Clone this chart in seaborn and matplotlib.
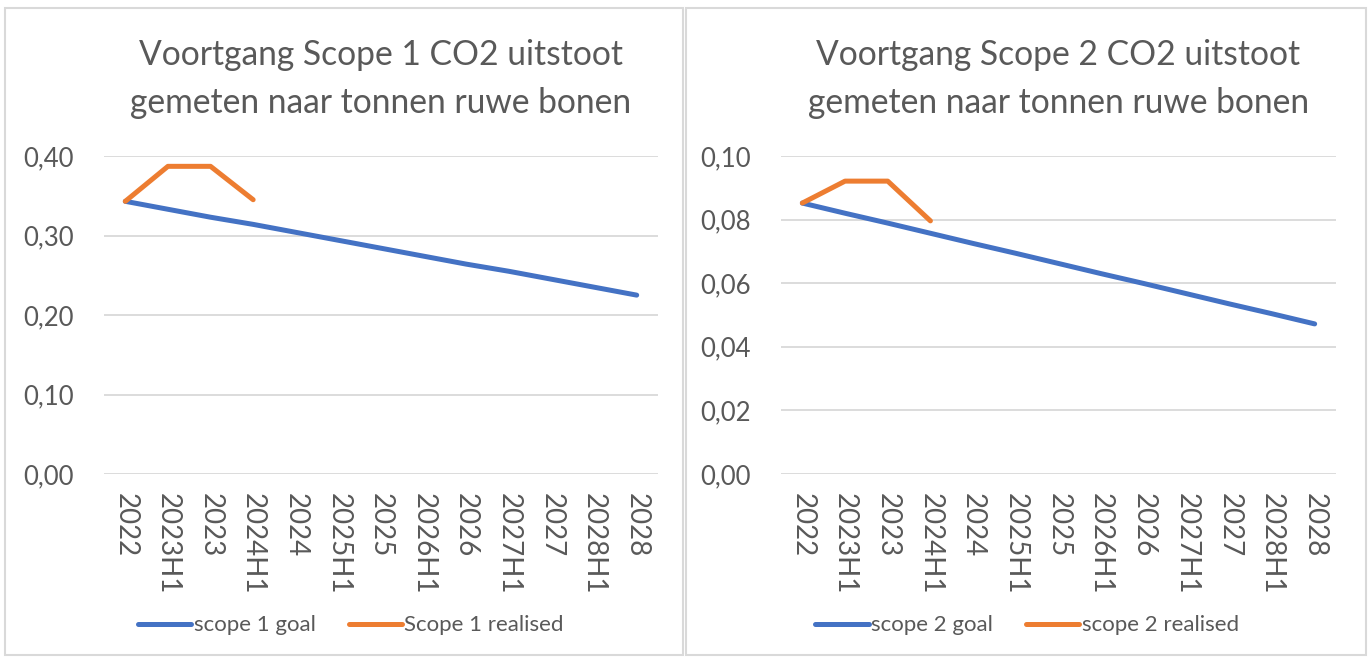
import pandas as pd
import numpy as np
import matplotlib
matplotlib.use("Agg")
import matplotlib.pyplot as plt
import seaborn as sns
from matplotlib.patches import Rectangle
from matplotlib.ticker import FuncFormatter

# Categorieen op de x-as
periodes = ["2022", "2023H1", "2023", "2024H1", "2024", "2025H1", "2025",
            "2026H1", "2026", "2027H1", "2027", "2028H1", "2028"]

# Scope 1
scope1_goal = [0.343, 0.333, 0.323, 0.314, 0.304, 0.294, 0.284,
               0.274, 0.264, 0.255, 0.245, 0.235, 0.225]
scope1_realised = [0.343, 0.387, 0.387, 0.345]

# Scope 2
scope2_goal = [0.0852, 0.0820, 0.0789, 0.0757, 0.0725, 0.0694, 0.0662,
               0.0630, 0.0599, 0.0567, 0.0535, 0.0504, 0.0472]
scope2_realised = [0.0852, 0.0921, 0.0921, 0.0796]

titels = ["Voortgang Scope 1 CO2 uitstoot\ngemeten naar tonnen ruwe bonen",
          "Voortgang Scope 2 CO2 uitstoot\ngemeten naar tonnen ruwe bonen"]
labels1 = ["scope 1 goal", "Scope 1 realised"]
labels2 = ["scope 2 goal", "scope 2 realised"]

BLAUW = "#4472C4"
ORANJE = "#ED7D31"
GRIJS = "#595959"
LICHT = "#D9D9D9"

sns.set_style("white")
plt.rcParams['font.family'] = ['Lato', 'DejaVu Sans']


def maak_df(goal, realised, labels):
    df_goal = pd.DataFrame({'periode': periodes, 'waarde': goal, 'serie': labels[0]})
    df_real = pd.DataFrame({'periode': periodes[:len(realised)], 'waarde': realised,
                            'serie': labels[1]})
    return pd.concat([df_goal, df_real], ignore_index=True)


def teken_panel(ax, df, labels, titel, ymax, yticks, leg_x):
    sns.lineplot(data=df, x='periode', y='waarde', hue='serie', hue_order=labels,
                 palette=[BLAUW, ORANJE], linewidth=3.6, sort=False, ax=ax,
                 solid_capstyle='round')
    ax.set_xlim(-0.5, len(periodes) - 0.5)
    ax.set_ylim(0, ymax)
    ax.set_yticks(yticks)
    ax.yaxis.set_major_formatter(FuncFormatter(lambda v, p: f"{v:.2f}".replace('.', ',')))
    ax.grid(axis='y', color=LICHT, linewidth=1.3)
    ax.set_axisbelow(True)
    for s in ax.spines.values():
        s.set_visible(False)
    ax.tick_params(length=0, colors=GRIJS)
    ax.tick_params(axis='y', pad=22, labelsize=18.5)
    ax.tick_params(axis='x', pad=14, labelsize=20)
    plt.setp(ax.get_xticklabels(), rotation=270, va='top', ha='center')
    ax.set_xlabel("")
    ax.set_ylabel("")
    ax.set_title(titel, fontsize=24.2, color=GRIJS, pad=31, linespacing=1.62)
    handles, _ = ax.get_legend_handles_labels()
    ax.legend(handles, labels, loc='center', bbox_to_anchor=(leg_x, 0.048),
              bbox_transform=ax.figure.transFigure, ncol=2, frameon=False,
              fontsize=16, labelcolor=GRIJS, handlelength=2.4, handletextpad=0.1,
              columnspacing=1.5)


fig = plt.figure(figsize=(13.71, 6.57), dpi=100)

# Kaders rond beide grafieken
fig.patches.append(Rectangle((5 / 1371, 2 / 657), 678 / 1371, 647 / 657,
                             transform=fig.transFigure, fill=False,
                             edgecolor=LICHT, linewidth=1.5))
fig.patches.append(Rectangle((686 / 1371, 2 / 657), 680 / 1371, 647 / 657,
                             transform=fig.transFigure, fill=False,
                             edgecolor=LICHT, linewidth=1.5))

ax1 = fig.add_axes([104 / 1371, 1 - 474 / 657, 554 / 1371, 318 / 657])
ax2 = fig.add_axes([781 / 1371, 1 - 474 / 657, 555 / 1371, 318 / 657])

teken_panel(ax1, maak_df(scope1_goal, scope1_realised, labels1), labels1, titels[0],
            0.4, [0, 0.1, 0.2, 0.3, 0.4], 351 / 1371)
teken_panel(ax2, maak_df(scope2_goal, scope2_realised, labels2), labels2, titels[1],
            0.1, [0, 0.02, 0.04, 0.06, 0.08, 0.1], 1027 / 1371)

fig.savefig("out.png", dpi=100)
